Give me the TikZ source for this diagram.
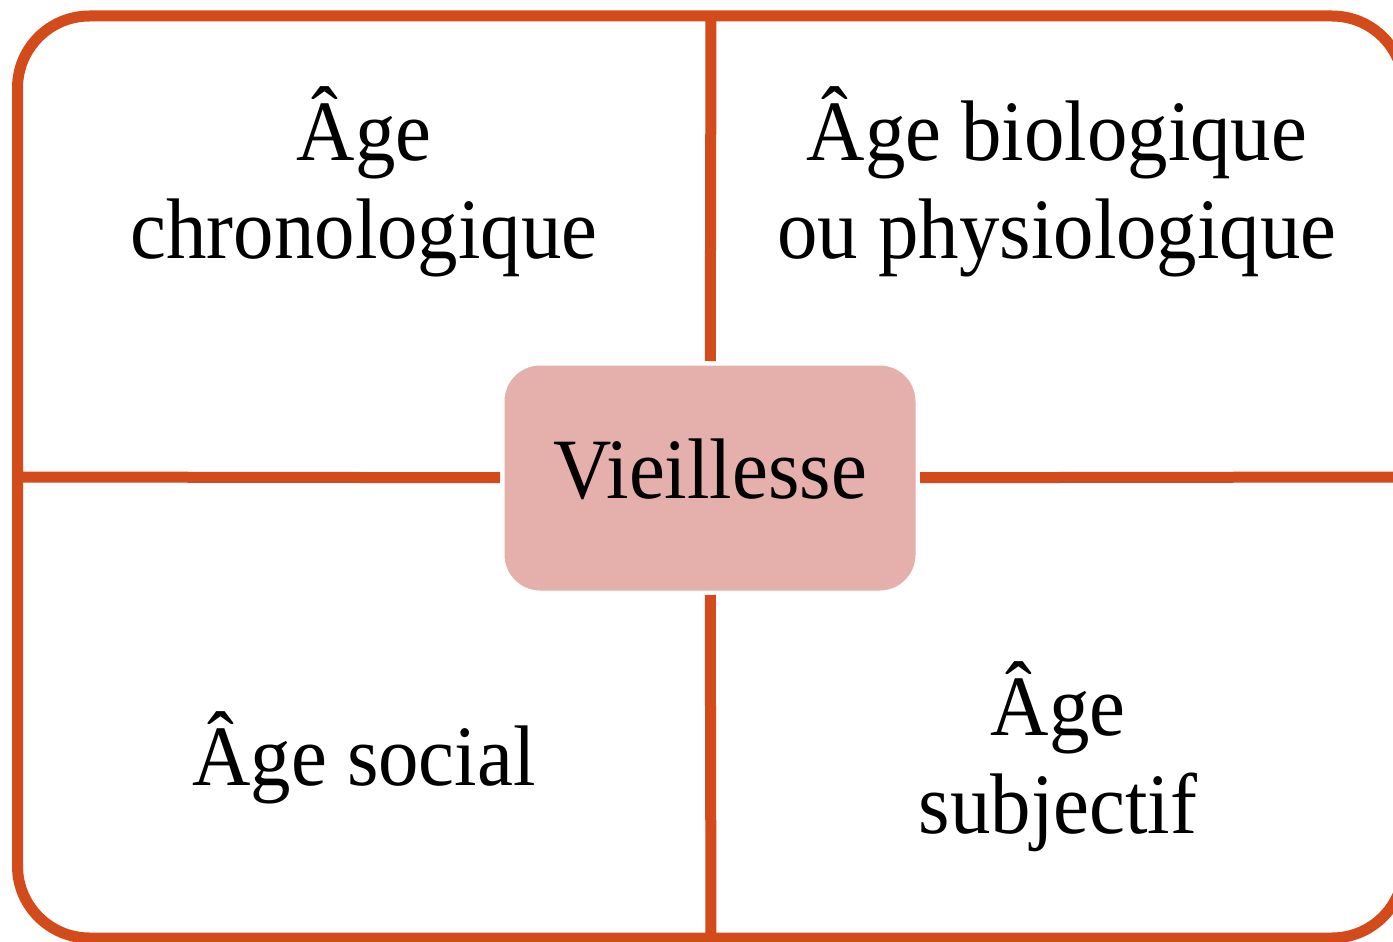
\documentclass[tikz,border=0pt]{standalone}
\usepackage{fontspec}
\setmainfont{Liberation Serif}[FakeStretch=0.94]
\definecolor{frame}{HTML}{D34A1B}
\definecolor{corefill}{HTML}{E5B0AB}
\begin{document}
\begin{tikzpicture}[x=1pt,y=-1pt,
  frameline/.style={draw=frame,line width=11pt},
  quadtext/.style={font=\fontsize{86}{98}\selectfont,align=center,inner sep=0pt,anchor=base},
  corebox/.style={fill=corefill,draw=white,line width=3pt,rounded corners=37pt,
    minimum width=414pt,minimum height=228pt,inner sep=0pt,outer sep=3pt,
    font=\fontsize{86}{98}\selectfont}]
\useasboundingbox (0,0) rectangle (1393,942);
\clip (0,0) rectangle (1393,942);
% outer frame
\draw[frameline,rounded corners=72pt] (17.5,16) rectangle (1404,938);
% central box, its word set a little below the middle
\node[corebox] (core) at (710,478) {\raisebox{-20pt}[0pt][0pt]{Vieillesse}};
% dividing lines
\coordinate (top) at (711,16);
\coordinate (bottom) at (711,938);
\coordinate (left) at (17.5,477);
\coordinate (right) at (1404,477);
\draw[frameline] (top) -- (core);
\draw[frameline] (bottom) -- (core);
\draw[frameline] (left) -- (core);
\draw[frameline] (right) -- (core);
% quadrant labels (base = baseline of the last line)
\node[quadtext] (chrono) at (364,258) {Âge\\chronologique};
\node[quadtext] (bio) at (1057,258) {Âge biologique\\ou physiologique};
\node[quadtext] (social) at (364,785) {Âge social};
\node[quadtext] (subj) at (1058,833) {Âge\\subjectif};
\end{tikzpicture}
\end{document}
